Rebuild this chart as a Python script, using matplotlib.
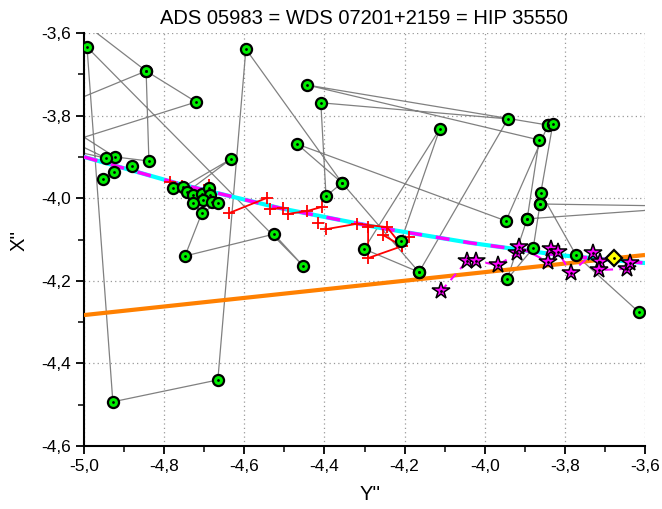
import numpy as np
import matplotlib.pyplot as plt
from matplotlib.ticker import MultipleLocator, FuncFormatter

nan = np.nan

# measured positions (green), in observing order; nan breaks the track
meas_x = [-5.10, -4.845, -4.720, -5.10, nan,
          -5.022, -4.845, -4.838, -4.923, -5.10, nan,
          -5.10, -4.945, -5.10, nan,
          -4.880, nan, -4.925, nan, -4.953, nan,
          -4.778, -4.753, -4.633, -4.743, -4.728, -4.706, -4.688, -4.686, -4.703,
          -4.728, -4.681, -4.666, -4.706, -4.748, -4.526, -4.453, -4.9925, -4.928,
          -4.666, -4.596, -4.356, -4.396, -4.409, -3.942, -4.164, -4.301, -4.112,
          -4.209, nan,
          -3.842, -3.947, -4.468, -4.356, -4.164, nan,
          -3.862, -3.46, -3.894, -3.864, -4.443, -3.842, -3.830, -3.860, -3.772,
          -3.615, nan,
          -3.862, -3.879, -3.944, -3.894]
meas_y = [-3.794, -3.692, -3.767, -3.883, nan,
          -3.56, -3.692, -3.910, -3.900, -3.79, nan,
          -3.83, -3.903, -3.87, nan,
          -3.922, nan, -3.937, nan, -3.954, nan,
          -3.975, -3.973, -3.905, -3.985, -3.992, -3.990, -3.975, -3.992, -4.004,
          -4.012, -4.009, -4.012, -4.036, -4.140, -4.087, -4.164, -3.634, -4.493,
          -4.440, -3.639, -3.963, -3.995, -3.769, -3.808, -4.179, -4.123, -3.832,
          -4.104, nan,
          -3.823, -4.055, -3.869, -3.963, -4.179, nan,
          -4.014, -4.02, -4.050, -3.859, -3.726, -3.823, -3.820, -3.987, -4.138,
          -4.276, nan,
          -4.014, -4.121, -4.196, -4.050]

# red crosses
cross_x = [-4.785, -4.755, nan, -4.688, -4.686, -4.671, nan, -4.638, -4.543, nan,
           -4.536, -4.503, nan, -4.491, -4.443, -4.406, nan, -4.416, nan,
           -4.396, -4.319, -4.244, -4.206, -4.291, -4.291, nan, -4.254, -4.206, nan,
           -4.189]
cross_y = [-3.961, -3.970, nan, -3.968, -3.985, -4.009, nan, -4.036, -3.999, nan,
           -4.026, -4.024, nan, -4.038, -4.031, -4.021, nan, -4.060, nan,
           -4.075, -4.062, -4.070, -4.116, -4.145, -4.070, nan, -4.089, -4.116, nan,
           -4.094]

# magenta stars
star_x = [-4.109, -4.044, -4.022, -3.967, -3.919, -3.914, -3.842, -3.835, -3.817,
          -3.785, -3.730, -3.712, -3.715, -3.645, -3.637]
star_y = [-4.225, -4.152, -4.152, -4.162, -4.133, -4.118, -4.154, -4.123, -4.130,
          -4.181, -4.133, -4.154, -4.174, -4.171, -4.157]

# yellow diamond
diam_x = [-3.677]
diam_y = [-4.145]

# orbit arc
orbit_x = [-5.0, -4.760, -4.511, -4.261, -4.037, -3.812, -3.600]
orbit_y = [-3.900, -3.966, -4.024, -4.072, -4.108, -4.138, -4.157]

# orange line
node_x = [-5.0, -3.6]
node_y = [-4.283, -4.1375]

font = ['Liberation Sans', 'DejaVu Sans']

fig = plt.figure(figsize=(6.62, 5.09), dpi=100)
ax = fig.add_axes([84 / 662, 1 - 446 / 509, (645 - 84) / 662, (446 - 33) / 509])

ax.plot(node_x, node_y, color='#ff8000', lw=3, zorder=3, solid_capstyle='butt')
ax.plot(meas_x, meas_y, color='#808080', lw=0.9, zorder=2)
ax.plot(orbit_x, orbit_y, color='#00ffff', lw=3, zorder=3)
ax.plot(orbit_x, orbit_y, color='#ff00ff', lw=2.5, ls=(0, (4, 4)), zorder=3.1)
ax.plot(cross_x, cross_y, color='red', lw=1.3, marker='+', ms=9, mew=1.3, zorder=4)
ax.plot(meas_x, meas_y, ls='none', marker='o', ms=8, mfc='#00ee00', mec='black',
        mew=1.6, zorder=5)
ax.plot(meas_x, meas_y, ls='none', marker='.', ms=2, color='black', zorder=5.1)
ax.plot(star_x, star_y, color='#ff00ff', lw=1.5, ls=(0, (4, 3)), zorder=4)
ax.plot(star_x, star_y, ls='none', marker='*', ms=13, mfc='#ff00ff', mec='black',
        mew=1.1, zorder=6)
ax.plot(star_x, star_y, ls='none', marker='.', ms=2, color='black', zorder=6.1)
ax.plot(diam_x, diam_y, ls='none', marker='D', ms=8, mfc='#ffff00', mec='black',
        mew=1.6, zorder=7)
ax.plot(diam_x, diam_y, ls='none', marker='.', ms=2, color='black', zorder=7.1)

ax.set_xlim(-5.0, -3.6)
ax.set_ylim(-4.6, -3.6)
ax.xaxis.set_major_locator(MultipleLocator(0.2))
ax.xaxis.set_minor_locator(MultipleLocator(0.1))
ax.yaxis.set_major_locator(MultipleLocator(0.2))
ax.yaxis.set_minor_locator(MultipleLocator(0.1))
fmt = FuncFormatter(lambda v, p: f"{v:.1f}".replace('.', ','))
ax.xaxis.set_major_formatter(fmt)
ax.yaxis.set_major_formatter(fmt)
ax.tick_params(which='major', direction='out', length=6, width=1.3, labelsize=12.5)
ax.tick_params(which='minor', direction='out', length=4, width=1.1)
for lab in ax.get_xticklabels() + ax.get_yticklabels():
    lab.set_family(font)

ax.grid(True, which='major', color='#999999', lw=0.9, ls=(0, (1, 2.5)))
ax.set_axisbelow(True)
for side in ['top', 'right']:
    ax.spines[side].set_visible(False)
for side in ['left', 'bottom']:
    ax.spines[side].set_linewidth(1.5)

fig.text(364 / 662, 1 - 18 / 509, "ADS 05983 = WDS 07201+2159 = HIP 35550",
         ha='center', va='center', fontsize=14.5, family=font)
fig.text(370 / 662, 1 - 494 / 509, "Y''", ha='center', va='center', fontsize=14.5,
         family=font)
fig.text(19 / 662, 1 - 240 / 509, "X''", ha='center', va='center', fontsize=14.5,
         rotation=90, family=font)

fig.savefig('out.png', dpi=100)
